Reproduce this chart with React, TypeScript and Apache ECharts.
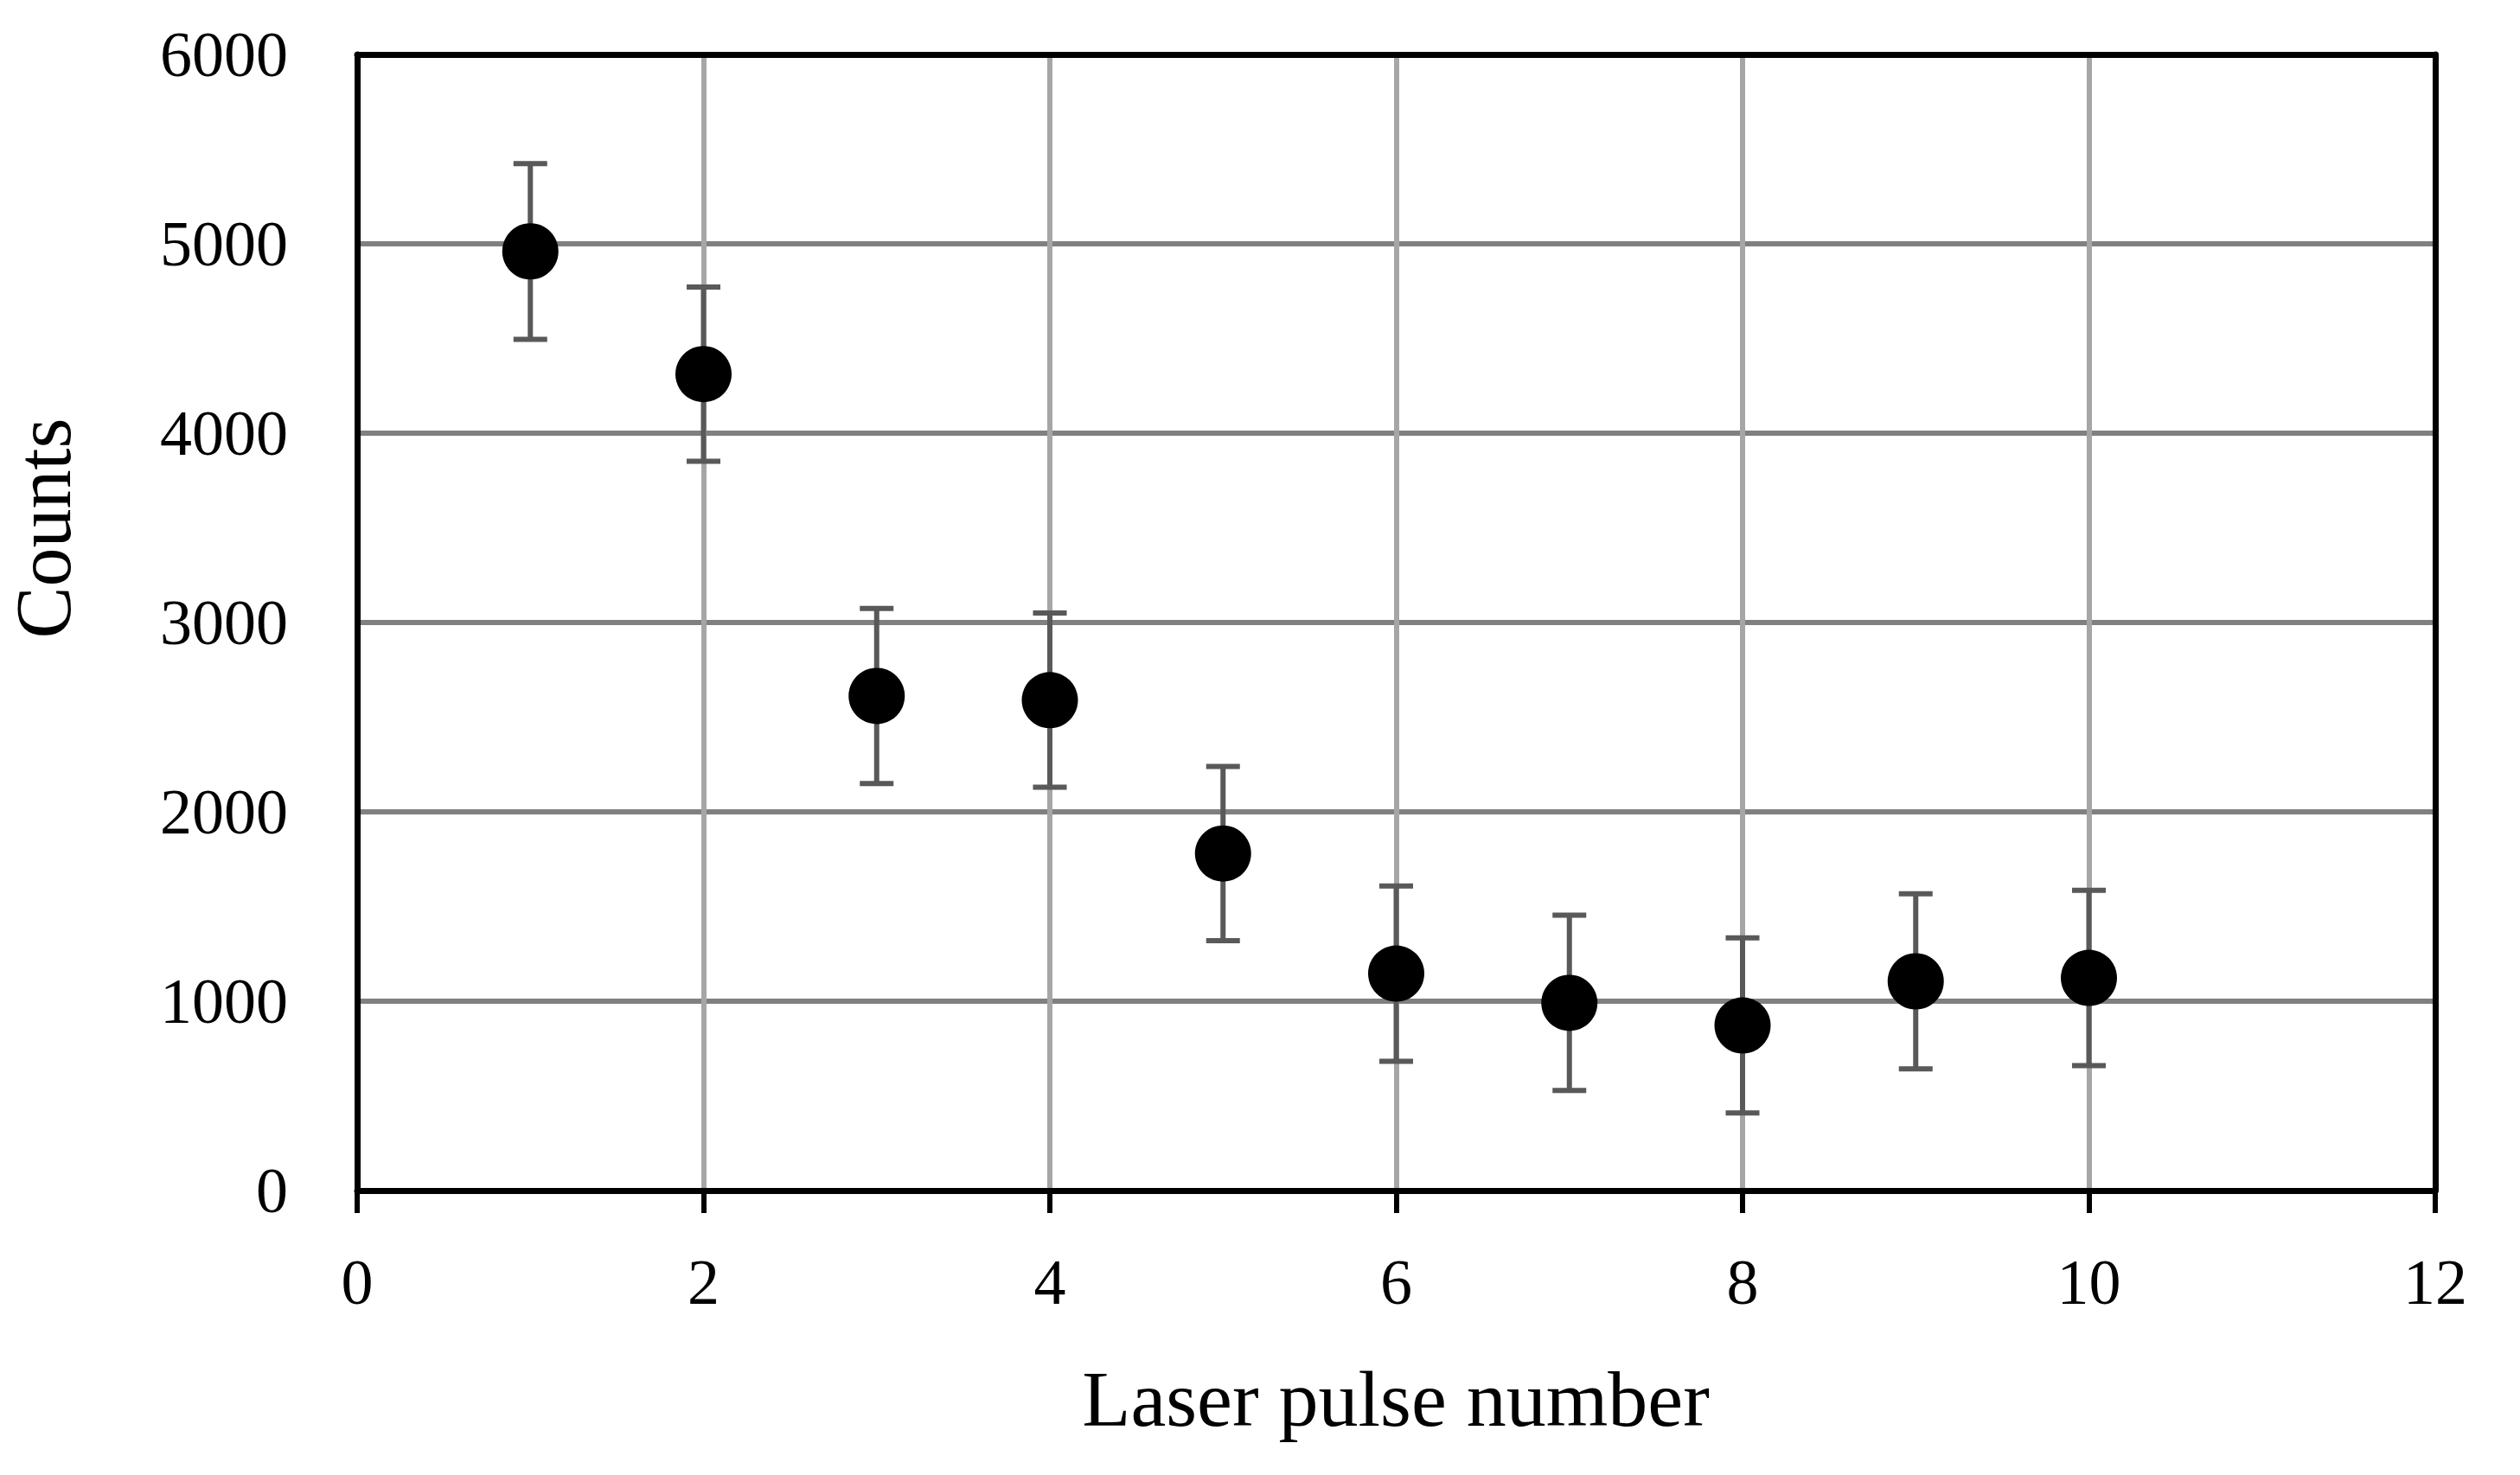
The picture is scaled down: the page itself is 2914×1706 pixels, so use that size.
import React, { useEffect, useRef } from "react";
import * as echarts from "echarts";

const pulseNumbers = [1, 2, 3, 4, 5, 6, 7, 8, 9, 10];
const counts = [4960, 4312, 2612, 2590, 1780, 1146, 991, 872, 1105, 1123];
const errors = [464, 460, 462, 460, 460, 463, 463, 462, 462, 463];
const xTicks = [0, 2, 4, 6, 8, 10, 12];
const yTicks = [0, 1000, 2000, 3000, 4000, 5000, 6000];

const FONT = "'Liberation Serif', 'Times New Roman', serif";

export default function App() {
  const ref = useRef<HTMLDivElement>(null);
  useEffect(() => {
    if (!ref.current) return;
    const chart = echarts.init(ref.current, undefined, { renderer: "svg" });
    const xMin = xTicks[0];
    const xMax = xTicks[xTicks.length - 1];
    const yMin = yTicks[0];
    const yMax = yTicks[yTicks.length - 1];
    const errData = pulseNumbers.map((x, i) => [x, counts[i], errors[i]]);
    const ptData = pulseNumbers.map((x, i) => [x, counts[i]]);
    chart.setOption({
      animation: false,
      backgroundColor: "#ffffff",
      grid: { left: 413, right: 98, top: 63, bottom: 329, containLabel: false },
      xAxis: [
        {
          type: "value",
          min: xMin,
          max: xMax,
          interval: 2,
          position: "bottom",
          axisLine: { show: true, onZero: false, lineStyle: { color: "#000", width: 7 } },
          axisTick: { show: true, inside: false, length: 26, lineStyle: { color: "#000", width: 6 } },
          axisLabel: {
            show: true,
            margin: 69,
            color: "#000",
            fontFamily: FONT,
            fontSize: 74,
            formatter: (v: number) => String(v),
          },
          splitLine: { show: true, lineStyle: { color: "#A6A6A6", width: 6 } },
        },
        {
          type: "value",
          min: xMin,
          max: xMax,
          interval: 2,
          position: "top",
          axisLine: { show: true, onZero: false, lineStyle: { color: "#000", width: 7 } },
          axisTick: { show: false },
          axisLabel: { show: false },
          splitLine: { show: false },
        },
      ],
      yAxis: [
        {
          type: "value",
          min: yMin,
          max: yMax,
          interval: 1000,
          position: "left",
          axisLine: { show: true, onZero: false, lineStyle: { color: "#000", width: 7 } },
          axisTick: { show: false },
          axisLabel: {
            show: true,
            margin: 80,
            color: "#000",
            fontFamily: FONT,
            fontSize: 74,
            formatter: (v: number) => String(v),
          },
          splitLine: { show: true, lineStyle: { color: "#808080", width: 6 } },
        },
        {
          type: "value",
          min: yMin,
          max: yMax,
          interval: 1000,
          position: "right",
          axisLine: { show: true, onZero: false, lineStyle: { color: "#000", width: 7 } },
          axisTick: { show: false },
          axisLabel: { show: false },
          splitLine: { show: false },
        },
      ],
      graphic: [
        {
          type: "text",
          x: 1614,
          y: 1618,
          style: {
            text: "Laser pulse number",
            fontFamily: FONT,
            fontSize: 92,
            fill: "#000",
            align: "center",
            verticalAlign: "middle",
          },
        },
        {
          type: "text",
          x: 50,
          y: 611,
          rotation: Math.PI / 2,
          style: {
            text: "Counts",
            fontFamily: FONT,
            fontSize: 90,
            fill: "#000",
            align: "center",
            verticalAlign: "middle",
          },
        },
      ],
      series: [
        {
          type: "custom",
          xAxisIndex: 0,
          yAxisIndex: 0,
          z: 2,
          data: errData,
          encode: { x: 0, y: 1 },
          renderItem: (params: any, api: any) => {
            const x = api.value(0);
            const y = api.value(1);
            const e = api.value(2);
            const top = api.coord([x, y + e]);
            const bot = api.coord([x, y - e]);
            const capW = 19.5;
            const style = { stroke: "#595959", lineWidth: 6 };
            return {
              type: "group",
              children: [
                { type: "line", shape: { x1: top[0], y1: top[1], x2: bot[0], y2: bot[1] }, style },
                { type: "line", shape: { x1: top[0] - capW, y1: top[1], x2: top[0] + capW, y2: top[1] }, style },
                { type: "line", shape: { x1: bot[0] - capW, y1: bot[1], x2: bot[0] + capW, y2: bot[1] }, style },
              ],
            };
          },
        },
        {
          type: "scatter",
          xAxisIndex: 0,
          yAxisIndex: 0,
          z: 3,
          symbol: "circle",
          symbolSize: 65,
          itemStyle: { color: "#000", opacity: 1 },
          emphasis: { disabled: true },
          data: ptData,
        },
      ],
    });
    return () => chart.dispose();
  }, []);
  return (
    <div
      ref={ref}
      style={{ position: "fixed", left: 0, top: 0, width: 2914, height: 1706, background: "#fff" }}
    />
  );
}
